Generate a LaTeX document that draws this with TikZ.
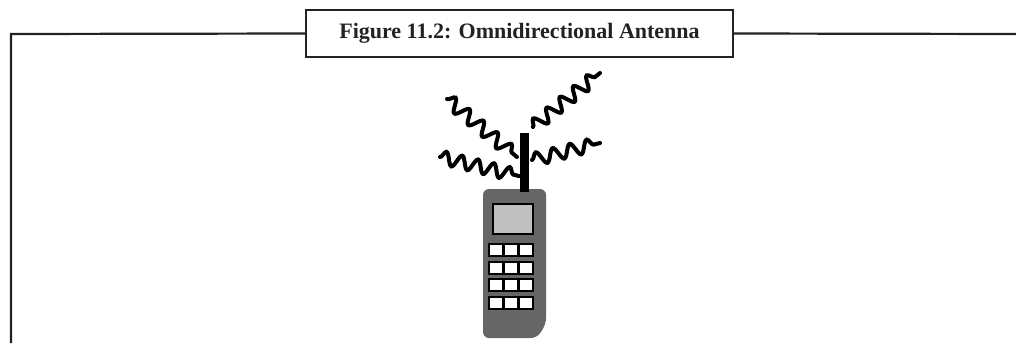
\documentclass[tikz,border=0pt]{standalone}
\usepackage{fontspec}
\setmainfont{Liberation Serif}
\usepackage{tikz}
\usetikzlibrary{positioning,decorations.pathmorphing}
\definecolor{frameink}{RGB}{34,34,34}
\definecolor{phonegray}{RGB}{102,102,102}
\definecolor{screengray}{RGB}{192,192,192}
\tikzset{
  caption/.style  ={draw=frameink, line width=2pt, fill=white, minimum width=427pt,
                    minimum height=47pt, inner sep=0pt, text=frameink,
                    font=\fontsize{22}{26}\selectfont\bfseries},
  frameline/.style={draw=frameink, line width=2.2pt},
  wave/.style     ={line width=4pt, line cap=round, decorate,
                    decoration={snake, segment length=#1, amplitude=6.5pt}},
  keyrow/.style   ={fill=black},
  keycap/.style   ={fill=white},
}

\begin{document}
\begin{tikzpicture}[x=1pt,y=-1pt]
\useasboundingbox (0,0) rectangle (1016,343);

% caption box and the frame running out of it
\node[caption] (title) at (519.5,33.5) {Figure 11.2: Omnidirectional Antenna};
\coordinate (corner) at (11,34);
\coordinate (foot) at (11,343);
\coordinate (edge) at (1016,34);
\draw[frameline] (title.west) -- (corner) -- (foot);
\draw[frameline] (title.east) -- (edge);

% handset body, cut corner at the bottom right
\fill[phonegray, rounded corners=6pt] (510,338) -- (483,338) -- (483,189) -- (546,189)
   -- (546,324) -- (537,338) -- cycle;
\fill[black] (520,133) rectangle (529,192);
\draw[line width=2pt, fill=screengray] (492.5,203.5) rectangle (532.5,233.5);

% keypad, 4 rows of 3 keys
\foreach \r in {0,...,3}{
  \fill[keyrow] (488,243+17.7*\r) rectangle (534,257+17.7*\r);
  \foreach \c in {0,1,2}
    \fill[keycap] (490+15*\c,245+17.7*\r) rectangle ++(12,10);
}

% radiation
\draw[wave=18.2] (447,99) -- (517,157);
\draw[wave=16.3] (440,157) -- (519,176);
\draw[wave=17.2] (533,127) -- (600,73);
\draw[wave=17.5] (532,160) -- (600,143);
\end{tikzpicture}
\end{document}
